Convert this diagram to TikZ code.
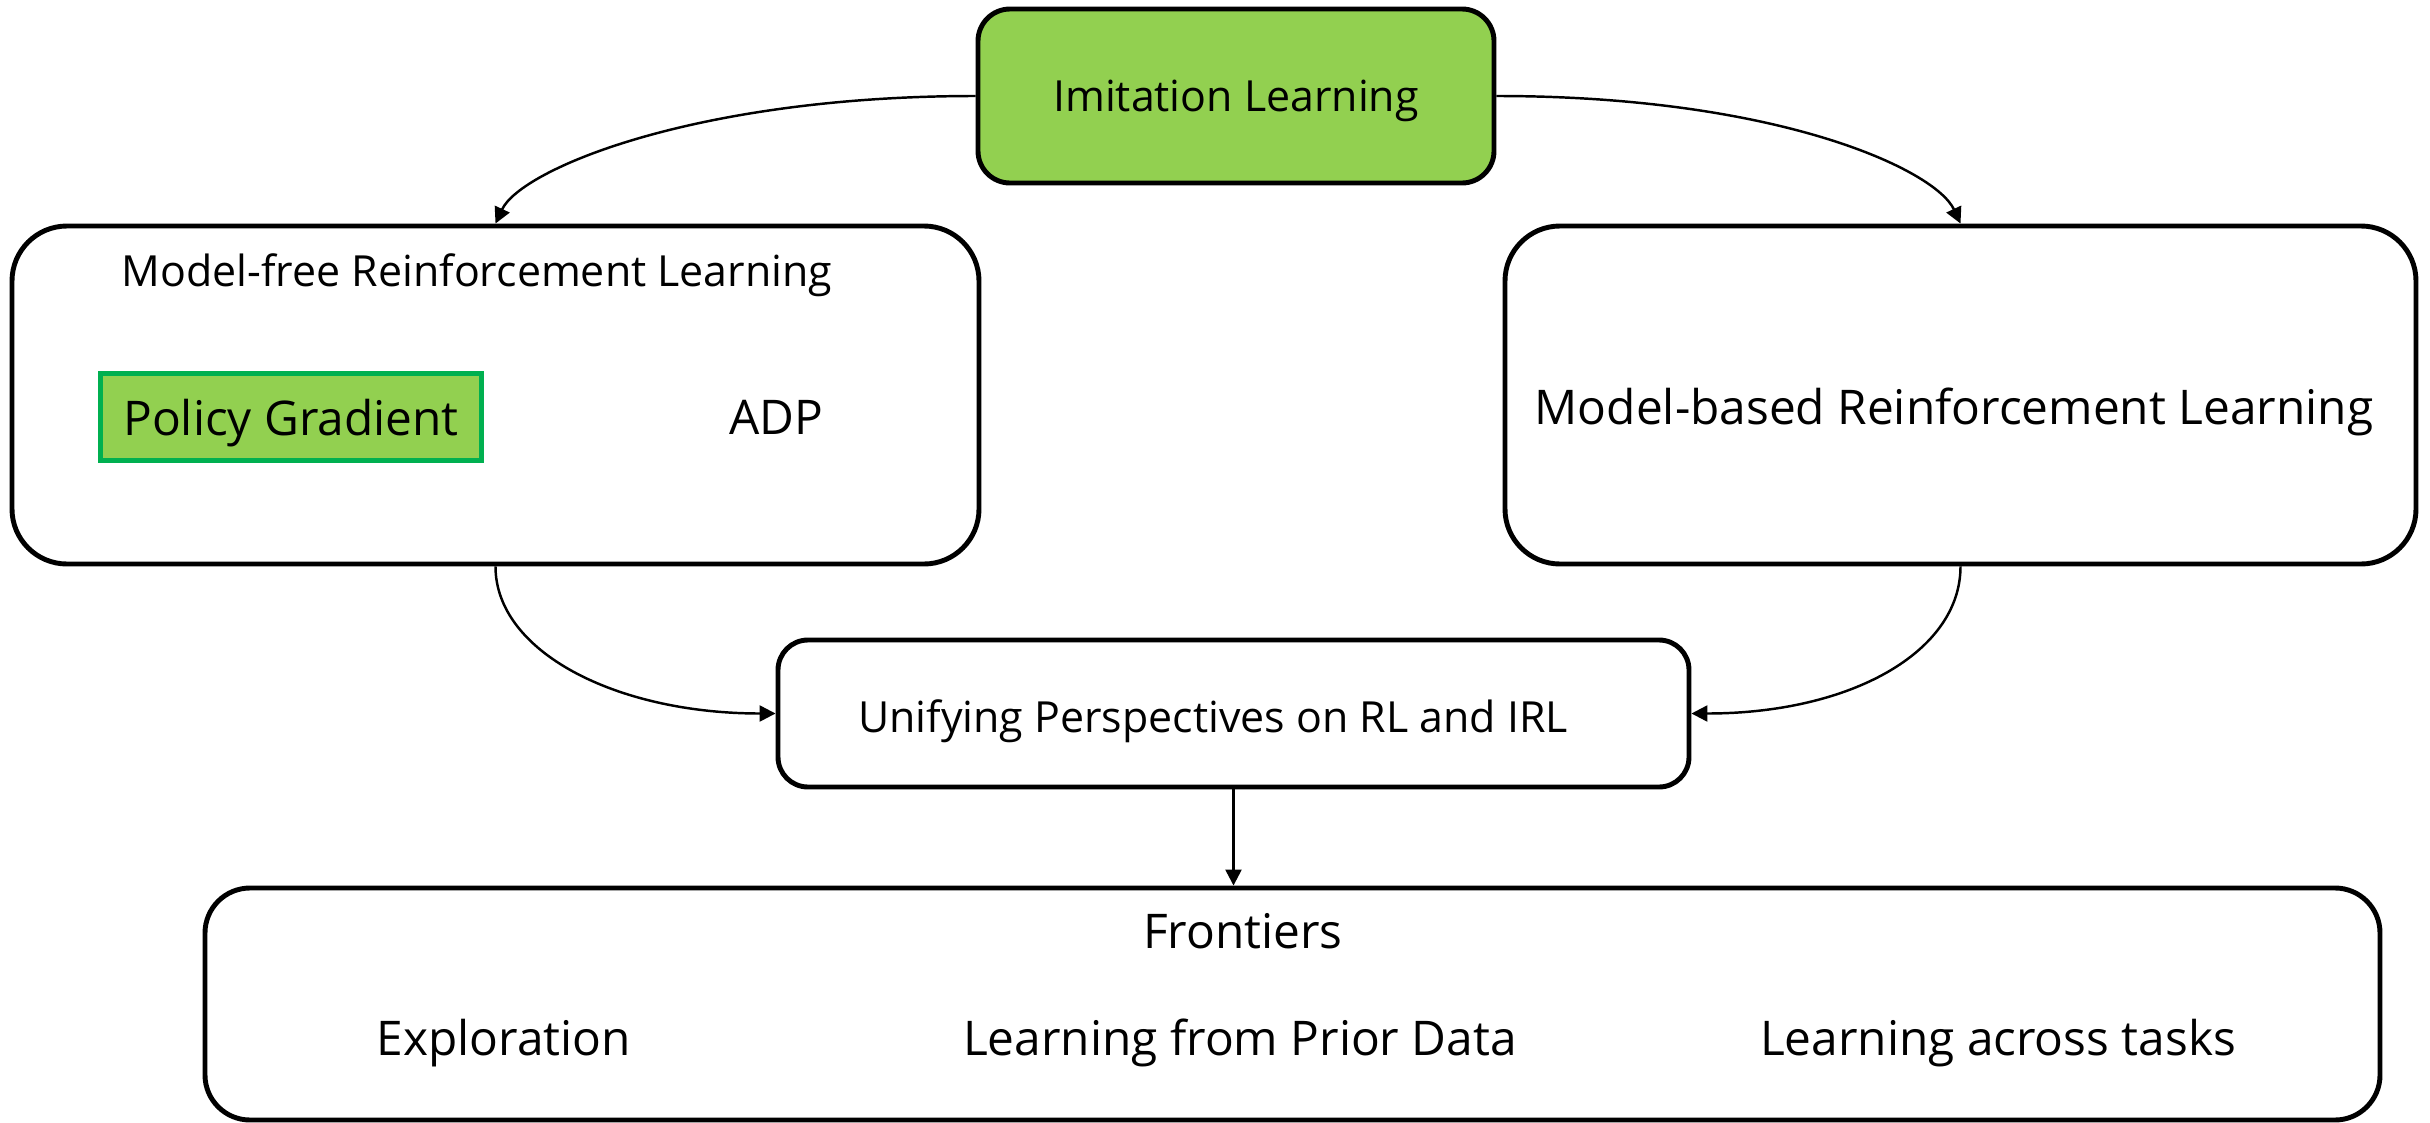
\documentclass[tikz,border=0pt]{standalone}
\usepackage{fontspec}
\setmainfont{Open Sans}
\usetikzlibrary{arrows.meta}
\definecolor{leafgreen}{HTML}{92D050}
\definecolor{pgborder}{HTML}{00B050}

\begin{document}
\begin{tikzpicture}[
    box/.style={draw, line width=1.4pt, inner sep=0pt},
    link/.style={-{Triangle[length=1.6mm,width=1.6mm]}, line width=0.7pt},
    small/.style={font=\fontsize{12.2}{14}\selectfont, text depth=0pt},
    large/.style={font=\fontsize{13.6}{16}\selectfont, text depth=0pt}
]
    \useasboundingbox (0,0) rectangle (24.30,-11.23);
    % top: imitation learning
    \node (imit) [box, fill=leafgreen, rounded corners=0.32cm, minimum width=5.16cm, minimum height=1.74cm, small] at (12.36,-0.96) {Imitation Learning};
    % model-free RL with its two methods
    \node (mfree) [box, rounded corners=0.55cm, minimum width=9.67cm, minimum height=3.38cm] at (4.955,-3.95) {};
    \node (mfreet) [small] at (4.77,-2.70) {Model-free Reinforcement Learning};
    \node (pg) [draw=pgborder, fill=leafgreen, line width=1.5pt, minimum width=3.81cm, minimum height=0.87cm, inner sep=0pt, large] at (2.91,-4.17) {Policy Gradient};
    \node (adp) [large] at (7.76,-4.17) {ADP};
    % model-based RL
    \node (mbased) [box, rounded corners=0.55cm, minimum width=9.11cm, minimum height=3.38cm] at (19.605,-3.95) {};
    \node (mbasedt) [large] at (19.54,-4.06) {Model-based Reinforcement Learning};
    % unifying perspectives
    \node (unif) [box, rounded corners=0.3cm, minimum width=9.11cm, minimum height=1.47cm] at (12.335,-7.135) {};
    \node (unift) [small] at (12.13,-7.16) {Unifying Perspectives on RL and IRL};
    % frontiers
    \node (front) [box, rounded corners=0.45cm, minimum width=21.75cm, minimum height=2.32cm] at (12.925,-10.04) {};
    \node (frontt) [large] at (12.43,-9.31) {Frontiers};
    \node (expl) [large] at (5.04,-10.37) {Exploration};
    \node (prior) [large] at (12.40,-10.37) {Learning from Prior Data};
    \node (tasks) [large] at (19.98,-10.37) {Learning across tasks};

    % arrows
    \draw [link] (imit.west) to[out=180, in=65, out distance=2.8cm, in distance=0.6cm] (mfree.north);
    \draw [link] (imit.east) to[out=0, in=115, out distance=2.8cm, in distance=0.6cm] (mbased.north);
    \draw [link] (mfree.south) to[out=-90, in=180, out distance=0.85cm, in distance=1.6cm] (unif.west);
    \draw [link] (mbased.south) to[out=-90, in=0, out distance=0.85cm, in distance=1.6cm] (unif.east);
    \draw [link] (unif.south) -- (front.north -| unif.south);
\end{tikzpicture}
\end{document}
